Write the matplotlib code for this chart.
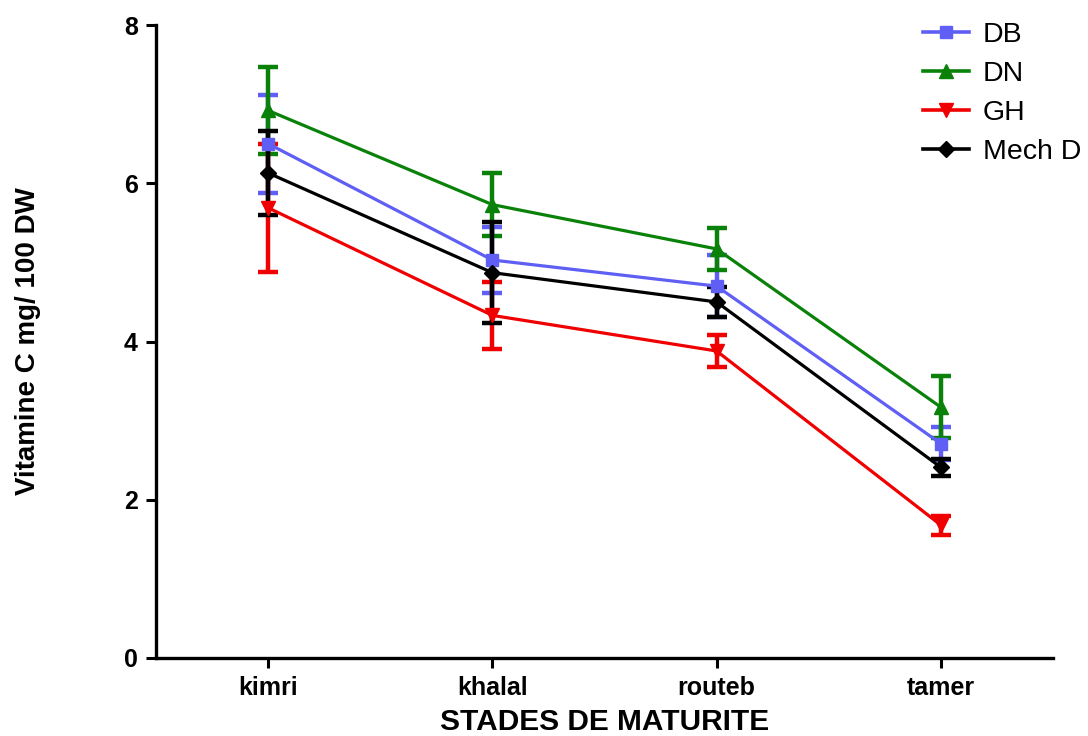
import matplotlib
matplotlib.use("Agg")
import matplotlib.pyplot as plt
from matplotlib.lines import Line2D
import numpy as np

categories = ["kimri", "khalal", "routeb", "tamer"]
series_names = ["DB", "DN", "GH", "Mech D"]
db_mean = [6.50, 5.03, 4.70, 2.71]
db_err = [0.62, 0.42, 0.39, 0.21]
dn_mean = [6.92, 5.73, 5.17, 3.17]
dn_err = [0.55, 0.40, 0.27, 0.39]
gh_mean = [5.69, 4.33, 3.88, 1.68]
gh_err = [0.81, 0.42, 0.20, 0.12]
mech_mean = [6.13, 4.87, 4.50, 2.41]
mech_err = [0.53, 0.64, 0.19, 0.11]
y_ticks = [0, 2, 4, 6, 8]

colors = ["#5f5ff5", "#0a820a", "#f00000", "#000000"]
markers = ["s", "^", "v", "D"]
msizes = [9, 10, 10, 8]

plt.rcParams['font.family'] = ['Liberation Sans', 'DejaVu Sans']

fig = plt.figure(figsize=(10.88, 7.36), dpi=100)
ax = fig.add_axes([0.1434, 0.106, 0.9678 - 0.1434, 0.966 - 0.106])

x = np.arange(len(categories))
means = [db_mean, dn_mean, gh_mean, mech_mean]
errs = [db_err, dn_err, gh_err, mech_err]
handles = []
for m, e, c, mk, ms, name in zip(means, errs, colors, markers, msizes, series_names):
    ax.errorbar(x, m, yerr=e, color=c, marker=mk, markersize=ms,
                linewidth=2.3, elinewidth=3.2, capsize=7, capthick=3.2,
                clip_on=False)
    handles.append(Line2D([], [], color=c, marker=mk, markersize=ms, linewidth=2.6))

ax.set_xlim(-0.5, 3.5)
ax.set_ylim(0, 8)
ax.set_xticks(x)
ax.set_xticklabels(categories, fontsize=18, fontweight='bold')
ax.set_yticks(y_ticks)
ax.set_yticklabels([str(t) for t in y_ticks], fontsize=18, fontweight='heavy')
ax.tick_params(axis='both', direction='out', length=7, width=2.2, pad=6)
for s in ['top', 'right']:
    ax.spines[s].set_visible(False)
for s in ['left', 'bottom']:
    ax.spines[s].set_linewidth(2.4)

ax.set_xlabel("STADES DE MATURITE", fontsize=21.5, fontweight='bold', labelpad=6)
ax.set_ylabel("Vitamine C mg/ 100 DW", fontsize=20, fontweight='bold', labelpad=0)
ax.yaxis.set_label_coords(-0.128, 0.5)

leg = fig.legend(handles=handles, labels=series_names, loc='upper left',
                 bbox_to_anchor=(0.83, 0.997), frameon=False, fontsize=20.5,
                 handlelength=1.6, labelspacing=0.45, handletextpad=0.5,
                 borderaxespad=0.3)

fig.savefig("out.png", dpi=100)
